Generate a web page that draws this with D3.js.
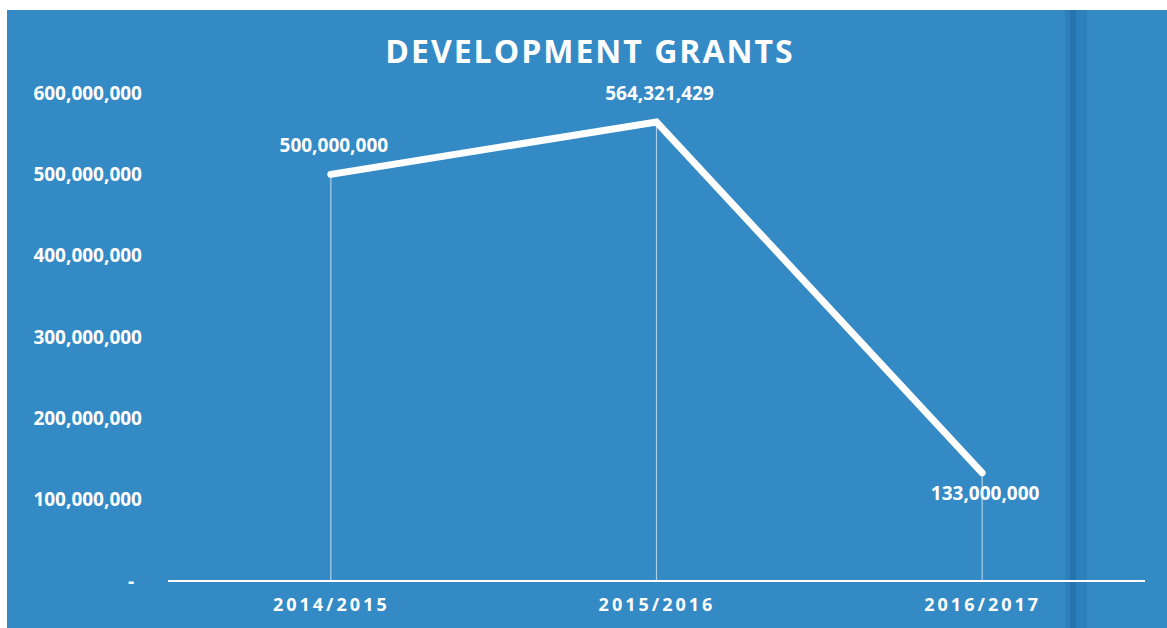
<!DOCTYPE html>
<html>
<head>
<meta charset="utf-8">
<script src="https://cdn.jsdelivr.net/npm/d3@7"></script>
<style>
  body { margin: 0; background: #fff; }
  svg { display: block; }
  text { font-family: "Open Sans", sans-serif; fill: #fff; font-weight: bold; }
</style>
</head>
<body>
<svg id="chart"></svg>
<script>
const years = ["2014/2015", "2015/2016", "2016/2017"];
const grants = [500000000, 564321429, 133000000];
const yTicks = [0, 100000000, 200000000, 300000000, 400000000, 500000000, 600000000];

const w = 1167, h = 628;
const svg = d3.select("#chart").attr("width", w).attr("height", h);

// blue slide background
svg.append("rect")
  .attr("x", 7).attr("y", 10)
  .attr("width", w - 7).attr("height", h - 10)
  .attr("fill", "#348ac5");

// fold shadow on the right of the scan
svg.append("rect")
  .attr("x", 1065).attr("y", 10).attr("width", 22).attr("height", h - 10)
  .attr("fill", "#1f6aa5").attr("opacity", 0.3);
svg.append("rect")
  .attr("x", 1070).attr("y", 10).attr("width", 6).attr("height", h - 10)
  .attr("fill", "#1a5f98").attr("opacity", 0.35);

const x = d3.scalePoint().domain(years).range([168, 1145]).padding(0.5);
const y = d3.scaleLinear().domain([0, 600000000]).range([581, 93]);

svg.append("text")
  .attr("x", 590).attr("y", 63)
  .attr("text-anchor", "middle")
  .style("font-size", "32px")
  .style("letter-spacing", "2px")
  .text("DEVELOPMENT GRANTS");

// y axis labels only
const yAxis = d3.axisLeft(y).tickValues(yTicks)
  .tickSize(0).tickPadding(0)
  .tickFormat(d => d === 0 ? "-" : d3.format(",")(d));
const gy = svg.append("g").attr("transform", "translate(142,0)").call(yAxis);
gy.select(".domain").remove();
gy.selectAll("text")
  .style("font-size", "19px")
  .attr("fill", "#fff")
  .attr("dx", d => d === 0 ? -8 : 0);

// x axis
const xAxis = d3.axisBottom(x).tickSize(0).tickPadding(17);
const gx = svg.append("g").attr("transform", "translate(0,581)").call(xAxis);
gx.select(".domain").attr("stroke", "#fff").attr("stroke-width", 2)
  .attr("d", "M168,0H1145");
gx.selectAll("text")
  .style("font-size", "18px")
  .style("letter-spacing", "3px")
  .attr("fill", "#fff");

// drop lines
svg.selectAll(".drop")
  .data(grants)
  .enter()
  .append("line")
  .attr("x1", (d, i) => x(years[i]))
  .attr("x2", (d, i) => x(years[i]))
  .attr("y1", d => y(d))
  .attr("y2", y(0))
  .attr("stroke", "#fff")
  .attr("stroke-opacity", 0.6)
  .attr("stroke-width", 1.2);

const line = d3.line()
  .x((d, i) => x(years[i]))
  .y(d => y(d));

svg.append("path")
  .datum(grants)
  .attr("d", line)
  .attr("fill", "none")
  .attr("stroke", "#fff")
  .attr("stroke-width", 7)
  .attr("stroke-linecap", "round")
  .attr("stroke-linejoin", "miter");

// data labels: below for the last point
svg.selectAll(".lbl")
  .data(grants)
  .enter()
  .append("text")
  .attr("x", (d, i) => x(years[i]) + 3)
  .attr("y", (d, i) => i === 2 ? y(d) + 27 : y(d) - 22)
  .attr("text-anchor", "middle")
  .style("font-size", "19px")
  .text(d => d3.format(",")(d));
</script>
</body>
</html>
